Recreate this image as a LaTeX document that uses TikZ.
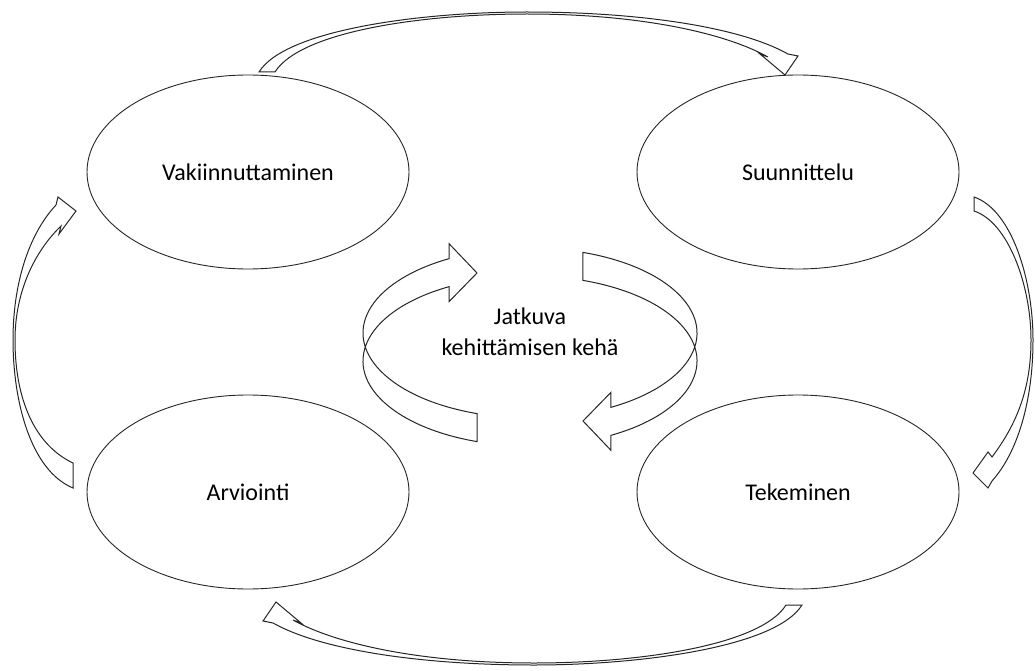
\documentclass[tikz,border=0pt]{standalone}
\usepackage{fontspec}
\setmainfont{Carlito}
\usetikzlibrary{calc,shapes.geometric}

\begin{document}
\begin{tikzpicture}[x=1pt,y=-1pt]
    \tikzstyle{phase}=[ellipse,draw=black!85,line width=0.9pt,minimum width=322pt,minimum height=194pt,inner sep=0pt,font=\fontsize{24}{29}\selectfont]
    \tikzstyle{block arrow}=[draw=black!85,fill=white,line width=1pt,line join=miter]
    \tikzstyle{ring arc}=[x radius=167pt,y radius=85pt]
    \tikzstyle{annot}=[align=center,font=\fontsize{24}{31}\selectfont]

    \useasboundingbox (0,0) rectangle (1035,671);

    % Draw the four phases
    \node[phase] (V) at (248,172) {Vakiinnuttaminen};
    \node[phase] (S) at (798,172) {Suunnittelu};
    \node[phase] (T) at (798,492) {Tekeminen};
    \node[phase] (A) at (248,492) {Arviointi};

    % Draw the centre text
    \node[annot] (C) at (530,332) {Jatkuva\\kehittämisen kehä};

    % Centre ring, two pieces (upper edge RA, lower edge RB)
    \coordinate (RA) at (530,333);
    \coordinate (RB) at (530,361);

    \draw[block arrow] ($(RA)+(251.5:167pt and 85pt)$)
        arc[ring arc,start angle=251.5,end angle=119]
        -- ++(0,-15) -- (477,273) -- ($(RB)+(119:167pt and 85pt)+(0pt,-15pt)$)
        -- ($(RB)+(119:167pt and 85pt)$)
        arc[ring arc,start angle=119,end angle=251.5] -- cycle;

    \draw[block arrow] ($(RA)+(71.5:167pt and 85pt)$)
        arc[ring arc,start angle=71.5,end angle=-61]
        -- ++(0,-15) -- (583,421) -- ($(RB)+(-61:167pt and 85pt)+(0pt,-15pt)$)
        -- ($(RB)+(-61:167pt and 85pt)$)
        arc[ring arc,start angle=-61,end angle=71.5] -- cycle;

    % Outer arrows: V to S, S to T, T to A, A to V
    \draw[block arrow] (259,72) .. controls (285,30) and (420,12) .. (527,12)
        .. controls (640,12) and (740,27) .. (788,54) -- (798,56) -- (785,75) -- (760,54) -- (768,57)
        .. controls (725,33) and (640,14) .. (527,14) .. controls (420,14) and (300,32) .. (275,72) -- cycle;

    \draw[block arrow] (974,197) .. controls (1012,210) and (1033,280) .. (1033,340)
        .. controls (1033,400) and (1018,452) .. (992,481) -- (988,488) -- (973,473) -- (988,452) -- (992,457)
        .. controls (1016,425) and (1031,390) .. (1031,340) .. controls (1031,285) and (1008,222) .. (974,211) -- cycle;

    \draw[block arrow] (802,605) .. controls (776,647) and (641,665) .. (534,665)
        .. controls (421,665) and (321,650) .. (273,623) -- (263,621) -- (276,602) -- (301,623) -- (293,620)
        .. controls (336,644) and (421,663) .. (534,663) .. controls (641,663) and (761,645) .. (786,605) -- cycle;

    \draw[block arrow] (73,488) .. controls (30,470) and (13,400) .. (13,340)
        .. controls (13,285) and (28,235) .. (56,205) -- (58,197) -- (76,211) -- (59,234) -- (61,226)
        .. controls (36,250) and (15,290) .. (15,340) .. controls (15,400) and (35,445) .. (73,463) -- cycle;
\end{tikzpicture}
\end{document}
